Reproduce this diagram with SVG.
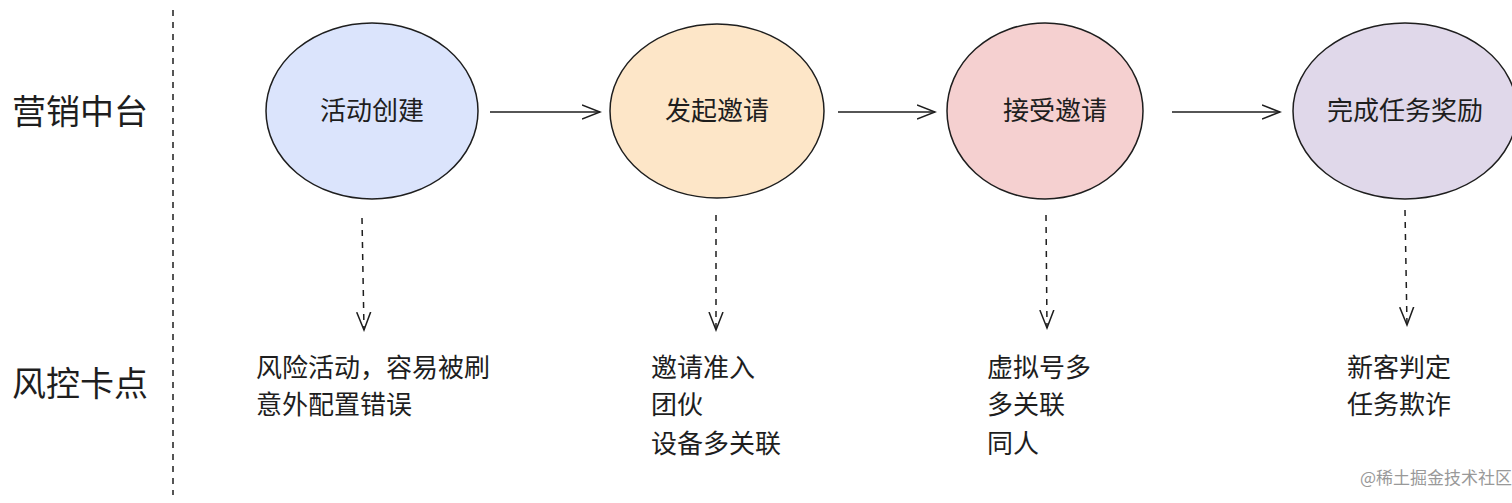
<svg xmlns="http://www.w3.org/2000/svg" width="1512" height="503" viewBox="0 0 1512 503">
<style>
text{font-family:"Noto Sans CJK SC","Noto Sans",sans-serif;fill:#1e1e1e}
.n{stroke:#1e1e1e;stroke-width:1.5}
.c{stroke:#1e1e1e;stroke-width:1.5;fill:none}
.d{stroke-dasharray:6 6}
.l{font-size:26px}
.t{font-size:26px;text-anchor:middle}
</style>
<defs><marker id="a" markerWidth="20" markerHeight="16" refX="18" refY="8" orient="auto" markerUnits="userSpaceOnUse"><path d="M0,1 L18,8 L0,15" fill="none" stroke="#1e1e1e" stroke-width="1.5"/></marker></defs>
<rect width="1512" height="503" fill="#fff"/>
<line x1="173" y1="10" x2="173" y2="495" class="c d"/>
<text x="12" y="124" style="font-size:34px">营销中台</text>
<text x="12" y="396" style="font-size:34px">风控卡点</text>
<g id="n1"><ellipse cx="372" cy="111" rx="106" ry="88" fill="#dbe4fc" class="n"/><text x="372" y="120" class="t">活动创建</text></g>
<g id="n2"><ellipse cx="717" cy="111" rx="107" ry="87" fill="#fde6c8" class="n"/><text x="717" y="120" class="t">发起邀请</text></g>
<g id="n3"><ellipse cx="1045" cy="111" rx="98" ry="88" fill="#f5d0d0" class="n"/><text x="1055" y="120" class="t">接受邀请</text></g>
<g id="n4"><ellipse cx="1405" cy="111" rx="112" ry="88" fill="#e0d8ea" class="n"/><text x="1405" y="120" class="t">完成任务奖励</text></g>
<g id="connectors">
<line x1="490" y1="112" x2="600" y2="112" class="c" marker-end="url(#a)"/>
<line x1="838" y1="112" x2="935" y2="112" class="c" marker-end="url(#a)"/>
<line x1="1172" y1="112" x2="1280" y2="112" class="c" marker-end="url(#a)"/>
<line x1="362" y1="218" x2="364" y2="330" class="c d" marker-end="url(#a)"/>
<line x1="716" y1="215" x2="716" y2="330" class="c d" marker-end="url(#a)"/>
<line x1="1046" y1="215" x2="1047" y2="328" class="c d" marker-end="url(#a)"/>
<line x1="1405" y1="210" x2="1407" y2="325" class="c d" marker-end="url(#a)"/>
</g>
<g id="risk">
<text x="256" y="377" class="l">风险活动，容易被刷</text>
<text x="256" y="414" class="l">意外配置错误</text>
<text x="651" y="377" class="l">邀请准入</text>
<text x="651" y="414" class="l">团伙</text>
<text x="651" y="453" class="l">设备多关联</text>
<text x="987" y="377" class="l">虚拟号多</text>
<text x="987" y="414" class="l">多关联</text>
<text x="987" y="453" class="l">同人</text>
<text x="1347" y="377" class="l">新客判定</text>
<text x="1347" y="414" class="l">任务欺诈</text>
</g>
<text x="1360" y="484" style="font-size:17px;fill:#999">@稀土掘金技术社区</text>
</svg>
